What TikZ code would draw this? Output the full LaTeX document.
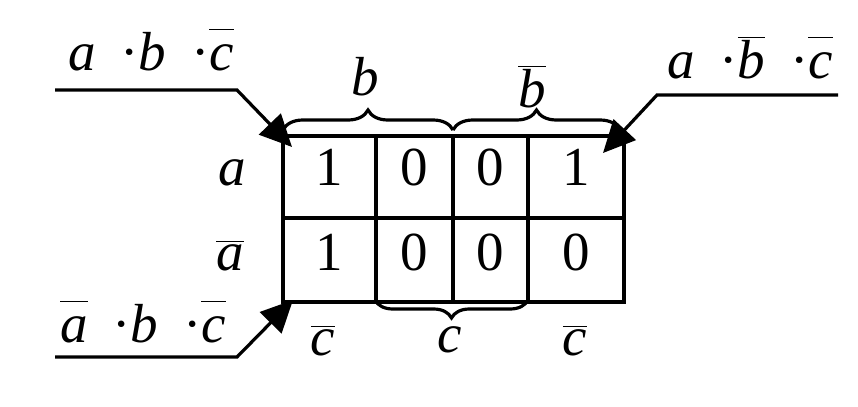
\documentclass[tikz,border=0pt]{standalone}
\usepackage{fontspec}
\setmainfont{Liberation Serif}
\usepackage{tikz}
\usetikzlibrary{positioning, arrows.meta, decorations.pathreplacing}

\newcommand{\nv}[1]{$\overline{\mbox{\itshape #1}}$}
\newcommand{\nvt}[1]{$\overline{\vphantom{\mbox{\itshape b}}\mbox{\itshape #1}}$}
\newcommand{\mdot}{\hspace{0.45em}\textperiodcentered}

\begin{document}
\begin{tikzpicture}[x=0.5pt, y=-0.5pt, line width=1.6pt, font=\fontsize{27.5}{30}\selectfont,
	lbl/.style={anchor=base, inner sep=0pt},
	pick/.style={-{Triangle[length=16pt,width=15pt]}},
	brc/.style={decorate, decoration={brace, amplitude=#1}}]
	\useasboundingbox (0,0) rectangle (858,407);

	% the map
	\draw (283,136) rectangle (624,302);
	\draw (283,218) -- (624,218);
	\foreach \x in {376,453,528} {
		\draw (\x,136) -- (\x,302);
	};

	\foreach \t/\x/\v/\w in {1/329/1/1, 2/414/0/0, 3/490/0/0, 4/576/1/0} {
		\node[lbl] (u\t) at (\x,185) {\v};
		\node[lbl] (d\t) at (\x,270) {\w};
	};

	\node[lbl] (ra) at (232,185) {\textit{a}};
	\node[lbl] (rna) at (230,270) {\nv{a}};

	% braces
	\draw[brc=10pt] (283,130) -- (453,130);
	\draw[brc=10pt] (453,130) -- (620,130);
	\draw[brc=9pt, decoration={mirror}] (375,300) -- (528,300);

	\node[lbl] (cb) at (365,95) {\textit{b}};
	\node[lbl] (cnb) at (532,107) {\nv{b}};
	\node[lbl] (lnc) at (323,355) {\nv{c}};
	\node[lbl] (lc) at (450,352) {\textit{c}};
	\node[lbl] (rnc) at (575,355) {\nv{c}};

	% terms
	\node[lbl] (tl) at (151,70) {\textit{a}\mdot\textit{b}\mdot\nvt{c}};
	\node[lbl] (tr) at (750,78) {\textit{a}\mdot\nvt{b}\mdot\nvt{c}};
	\node[lbl] (bl) at (143,342) {\nvt{a}\mdot\textit{b}\mdot\nvt{c}};

	\coordinate (tlS) at (55,90);
	\coordinate (tlB) at (237,90);
	\coordinate (tlT) at (292,147);
	\coordinate (trS) at (838,95);
	\coordinate (trB) at (657,95);
	\coordinate (trT) at (603,153);
	\coordinate (blS) at (55,357);
	\coordinate (blB) at (237,357);
	\coordinate (blT) at (293,300);

	\draw[pick] (tlS) -- (tlB) -- (tlT);
	\draw[pick] (trS) -- (trB) -- (trT);
	\draw[pick] (blS) -- (blB) -- (blT);
\end{tikzpicture}
\end{document}
